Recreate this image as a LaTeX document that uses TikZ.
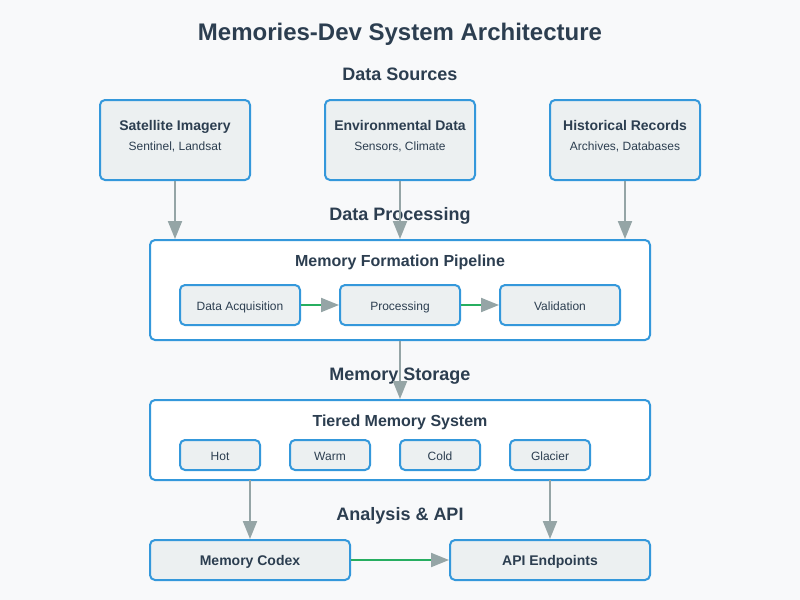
\documentclass[tikz,border=0pt]{standalone}
\usepackage{fontspec}
\setmainfont{Liberation Sans}
\usetikzlibrary{arrows.meta}
\definecolor{bg}{HTML}{F8F9FA}
\definecolor{boxfill}{HTML}{ECF0F1}
\definecolor{blueline}{HTML}{3498DB}
\definecolor{txt}{HTML}{2C3E50}
\definecolor{arrgray}{HTML}{95A5A6}
\definecolor{grn}{HTML}{27AE60}
\tikzset{
  px/.style={x=0.75pt,y=-0.75pt},
  card/.style={draw=blueline,line width=1.5pt,fill=boxfill,rounded corners=3.75pt,inner sep=0pt,text=txt},
  panel/.style={draw=blueline,line width=1.5pt,fill=white,rounded corners=3.75pt,inner sep=0pt},
  flow/.style={draw=arrgray,line width=1.5pt,-{Triangle[length=13.5pt,width=10.5pt,color=arrgray]}},
  gflow/.style={draw=grn,line width=1.5pt,-{Triangle[length=13.5pt,width=10.5pt,color=arrgray]}},
  heading/.style={anchor=base,inner sep=0pt,text=txt,font=\bfseries\fontsize{13.5}{16}\selectfont},
  pt/.style={anchor=base,inner sep=0pt,text=txt,font=\bfseries\fontsize{12}{14}\selectfont},
  bt/.style={anchor=base,inner sep=0pt,text=txt,font=\bfseries\fontsize{10.5}{12}\selectfont},
  st/.style={anchor=base,inner sep=0pt,text=txt,font=\fontsize{9}{11}\selectfont}
}
\begin{document}
\begin{tikzpicture}[px]
\fill[bg] (0,0) rectangle (800,600);
\useasboundingbox (0,0) rectangle (800,600);
\node[anchor=base,inner sep=0pt,text=txt,font=\bfseries\fontsize{18}{22}\selectfont] (title) at (400,40) {Memories-Dev System Architecture};
\node[heading] (hsrc) at (400,80.5) {Data Sources};
% source cards
\node[card,minimum width=112.5pt,minimum height=60pt] (s1) at (175,140) {};
\node[card,minimum width=112.5pt,minimum height=60pt] (s2) at (400,140) {};
\node[card,minimum width=112.5pt,minimum height=60pt] (s3) at (625,140) {};
\node[bt] (s1t) at (175,130) {Satellite Imagery};
\node[st] (s1s) at (175,150) {Sentinel, Landsat};
\node[bt] (s2t) at (400,130) {Environmental Data};
\node[st] (s2s) at (400,150) {Sensors, Climate};
\node[bt] (s3t) at (625,130) {Historical Records};
\node[st] (s3s) at (625,150) {Archives, Databases};
% pipeline
\node[panel,minimum width=375pt,minimum height=75pt] (pipe) at (400,290) {};
\node[heading] (hproc) at (400,220.5) {Data Processing};
\node[pt] (pipet) at (400,266) {Memory Formation Pipeline};
\node[card,minimum width=90pt,minimum height=30pt] (p1) at (240,305) {};
\node[card,minimum width=90pt,minimum height=30pt] (p2) at (400,305) {};
\node[card,minimum width=90pt,minimum height=30pt] (p3) at (560,305) {};
\node[st] at (240,310) {Data Acquisition};
\node[st] at (400,310) {Processing};
\node[st] at (560,310) {Validation};
% storage
\node[panel,minimum width=375pt,minimum height=60pt] (store) at (400,440) {};
\node[heading] (hstore) at (400,380.5) {Memory Storage};
\node[pt] (storet) at (400,426) {Tiered Memory System};
\node[card,minimum width=60pt,minimum height=22.5pt] (t1) at (220,455) {};
\node[card,minimum width=60pt,minimum height=22.5pt] (t2) at (330,455) {};
\node[card,minimum width=60pt,minimum height=22.5pt] (t3) at (440,455) {};
\node[card,minimum width=60pt,minimum height=22.5pt] (t4) at (550,455) {};
\node[st] at (220,460) {Hot};
\node[st] at (330,460) {Warm};
\node[st] at (440,460) {Cold};
\node[st] at (550,460) {Glacier};
% analysis
\node[heading] (hapi) at (400,520.5) {Analysis \& API};
\node[card,minimum width=150pt,minimum height=30pt] (codex) at (250,560) {};
\node[card,minimum width=150pt,minimum height=30pt] (api) at (550,560) {};
\node[bt] at (250,565) {Memory Codex};
\node[bt] at (550,565) {API Endpoints};
% connectors
\draw[flow] (s1.south) -- (s1.south |- pipe.north);
\draw[flow] (s2.south) -- (s2.south |- pipe.north);
\draw[flow] (s3.south) -- (s3.south |- pipe.north);
\draw[gflow] (p1.east) -- (p2.west);
\draw[gflow] (p2.east) -- (p3.west);
\draw[flow] (pipe.south) -- (store.north);
\coordinate (sl) at (250,480);
\coordinate (sr) at (550,480);
\draw[flow] (sl) -- (codex.north);
\draw[flow] (sr) -- (api.north);
\draw[gflow] (codex.east) -- (api.west);
\end{tikzpicture}
\end{document}
